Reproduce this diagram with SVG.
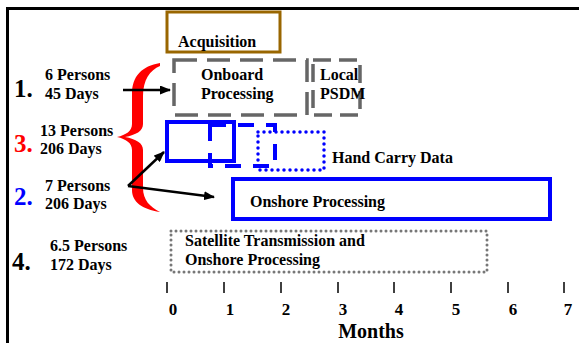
<svg xmlns="http://www.w3.org/2000/svg" width="579" height="343" viewBox="0 0 579 343">
<defs>
<marker id="ah" markerUnits="userSpaceOnUse" markerWidth="11" markerHeight="9" refX="10" refY="4.5" orient="auto">
<path d="M0,0 L11,4.5 L0,9 Z" fill="#000"/>
</marker>
</defs>
<style>
text{font-family:"Liberation Serif","Times New Roman",serif;font-weight:bold;fill:#000}
.t{font-size:16px}
.num{font-size:25px}
.tick{font-size:17px;text-anchor:middle}
.box{fill:none}
.gdash{stroke:#666;stroke-width:3.5;stroke-dasharray:23 10}
.bsolid{stroke:#0000ff;stroke-width:4}
.bdash{stroke:#0000ff;stroke-width:4;stroke-dasharray:16 12}
.bdot{stroke:#0000ff;stroke-width:3.5;stroke-dasharray:0 6;stroke-linecap:round}
.gdot{stroke:#777;stroke-width:3;stroke-dasharray:0 5;stroke-linecap:round}
.conn{stroke:#000;stroke-width:2.5;fill:none;marker-end:url(#ah)}
</style>
<rect width="579" height="343" fill="#fff"/>
<g id="frame">
<line x1="6" y1="8.5" x2="579" y2="8.5" stroke="#000" stroke-width="3"/>
<line x1="7.5" y1="7" x2="7.5" y2="343" stroke="#000" stroke-width="3"/>
</g>
<g id="labels">
<text class="num" x="14" y="97">1.</text>
<text class="t" x="45" y="80">6 Persons</text>
<text class="t" x="45" y="99">45 Days</text>
<text class="num" x="14" y="152" style="fill:#ff0000">3.</text>
<text class="t" x="40" y="136">13 Persons</text>
<text class="t" x="40" y="154">206 Days</text>
<text class="num" x="14" y="205" style="fill:#0000ff">2.</text>
<text class="t" x="45" y="191">7 Persons</text>
<text class="t" x="45" y="209">206 Days</text>
<text class="num" x="12" y="270">4.</text>
<text class="t" x="50" y="251">6.5 Persons</text>
<text class="t" x="50" y="270">172 Days</text>
</g>
<g id="brace">
<path d="M160,63 C142,66 132,76 132,94 L132,124 C132,131 126,135 117,137 C126,139 132,143 132,150 L132,190 C132,202 142,209 160,212 C150,207 143,200 143,188 L143,150 C143,143 136,139 125,137 C136,135 143,131 143,124 L143,96 C143,80 150,70 160,66 Z" fill="#ff0000"/>
</g>
<g id="acquisition">
<rect class="box" x="167" y="12" width="113" height="40" stroke="#996600" stroke-width="3"/>
<text class="t" x="178" y="47">Acquisition</text>
</g>
<g id="onboard">
<rect class="box gdash" x="174" y="60" width="133" height="55"/>
<text class="t" x="201" y="80">Onboard</text>
<text class="t" x="201" y="99">Processing</text>
</g>
<g id="local">
<rect class="box gdash" x="313" y="60" width="47" height="55" style="stroke-dasharray:18 8"/>
<text class="t" x="320" y="80">Local</text>
<text class="t" x="320" y="99">PSDM</text>
</g>
<g id="handcarry">
<rect class="box bsolid" x="167" y="122" width="67" height="39"/>
<rect class="box bdash" x="210" y="125" width="65" height="41"/>
<rect class="box bdot" x="258" y="132" width="66" height="38"/>
<text class="t" x="332" y="163">Hand Carry Data</text>
</g>
<g id="onshore">
<rect class="box bsolid" x="233" y="179" width="317" height="40"/>
<text class="t" x="250" y="207">Onshore Processing</text>
</g>
<g id="satellite">
<rect class="box gdot" x="171" y="231" width="316" height="41"/>
<text class="t" x="185" y="246">Satellite Transmission and</text>
<text class="t" x="185" y="265">Onshore Processing</text>
</g>
<g id="connectors">
<line class="conn" x1="123" y1="90" x2="170" y2="90"/>
<line class="conn" x1="128" y1="186" x2="164" y2="152"/>
<line class="conn" x1="128" y1="186" x2="214" y2="197"/>
</g>
<g id="axis" stroke="#000" stroke-width="1.5">
<line x1="167" y1="282" x2="167" y2="293"/>
<line x1="224" y1="282" x2="224" y2="293"/>
<line x1="281" y1="282" x2="281" y2="293"/>
<line x1="338" y1="282" x2="338" y2="293"/>
<line x1="394" y1="282" x2="394" y2="293"/>
<line x1="451" y1="282" x2="451" y2="293"/>
<line x1="508" y1="282" x2="508" y2="293"/>
<line x1="564" y1="282" x2="564" y2="293"/>
</g>
<g id="axis-labels">
<text class="tick" x="173" y="315">0</text>
<text class="tick" x="230" y="315">1</text>
<text class="tick" x="286" y="315">2</text>
<text class="tick" x="343" y="315">3</text>
<text class="tick" x="399" y="315">4</text>
<text class="tick" x="456" y="315">5</text>
<text class="tick" x="513" y="315">6</text>
<text class="tick" x="568" y="315">7</text>
<text x="371" y="338" style="font-size:20px;text-anchor:middle">Months</text>
</g>
</svg>
